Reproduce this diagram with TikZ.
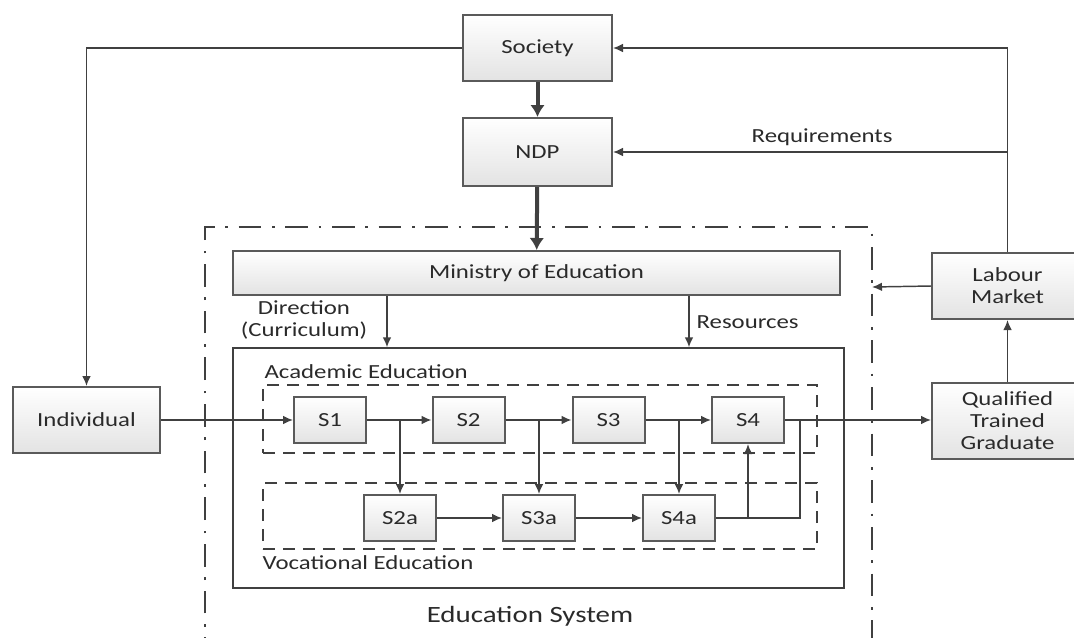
\documentclass[tikz,border=0pt]{standalone}
\usepackage{fontspec}
\setmainfont{Carlito}[FakeStretch=1.24]
\usetikzlibrary{arrows.meta}
\definecolor{edgegray}{HTML}{5A5A5A}
\definecolor{linegray}{HTML}{404040}
\definecolor{txtgray}{HTML}{2A2A2A}
\tikzstyle{blk} = [draw=edgegray,line width=1.5pt,top color=white,bottom color=black!11,text=txtgray,align=center,inner sep=2pt]
\tikzstyle{sbox} = [blk,minimum width=54pt,minimum height=34.5pt]
\tikzstyle{zone} = [draw=linegray,line width=1.1pt,dash pattern=on 9pt off 6pt,minimum width=415.5pt]
\tikzstyle{lbl} = [text=txtgray,inner sep=1pt]

\begin{document}
\begin{tikzpicture}[x=0.75pt,y=-0.75pt,font=\fontsize{15}{16.5}\selectfont,
  post/.style={->,>={Latex[length=7.5pt,width=6.5pt]},draw=linegray,line width=1.1pt},
  bigpost/.style={post,line width=3pt,>={Latex[length=9pt,width=11pt]}}]
    \useasboundingbox (0,0) rectangle (1074,637);

    % outer frame of the education system
    \draw[draw=linegray,line width=1.3pt,dash pattern=on 17pt off 8pt on 2pt off 8pt]
        (205,660) -- (205,227) -- (872,227) -- (872,660);
    \coordinate (frameR) at (872,287);
    \node[lbl,font=\fontsize{17.5}{20}\selectfont] (edusys) at (530,616) {Education System};

    \node[blk,minimum width=111.75pt,minimum height=49.5pt] (soc) at (537.5,48) {Society};
    \node[blk,minimum width=111.75pt,minimum height=51pt] (ndp) at (537.5,152) {NDP};
    \node[blk,minimum width=455.25pt,minimum height=33pt] (moe) at (536.5,273) {Ministry of Education};
    \node[blk,minimum width=110.25pt,minimum height=49.5pt] (ind) at (86.5,420) {Individual};
    \node[blk,minimum width=113.25pt,minimum height=49.5pt] (lab) at (1007.5,286) {Labour\\Market};
    \node[blk,minimum width=113.25pt,minimum height=57pt] (qtg) at (1007.5,421) {Qualified\\Trained\\Graduate};

    \node[draw=linegray,line width=1.1pt,minimum width=458.25pt,minimum height=180pt] (edu) at (538.5,468) {};
    \node[zone,minimum height=51pt] (acad) at (540,419) {};
    \node[zone,minimum height=49.5pt] (voc) at (540,516) {};
    \node[lbl,anchor=west] (acadlbl) at (263,372) {Academic Education};
    \node[lbl,anchor=west] (voclbl) at (261,563) {Vocational Education};

    \node[sbox] (s1) at (330,420) {S1};
    \node[sbox] (s2) at (468.5,420) {S2};
    \node[sbox] (s3) at (608.5,420) {S3};
    \node[sbox] (s4) at (748,420) {S4};
    \node[sbox] (s2a) at (400,518) {S2a};
    \node[sbox] (s3a) at (539,518) {S3a};
    \node[sbox] (s4a) at (679,518) {S4a};

    \coordinate (dirx) at (387,0);
    \coordinate (resx) at (689,0);
    \coordinate (join) at (800,421);

    \draw[bigpost] (soc) -- (ndp);
    \draw[bigpost] (ndp) -- (moe);
    \draw[post] (soc.west) -| (ind.north);
    \draw[post] (lab.north) |- (soc.east);
    \draw[post] (lab.north |- ndp.east) -- node[lbl,above=3pt,pos=0.47] {Requirements} (ndp.east);
    \draw[post] (lab.west) -- (frameR);
    \draw[post] (qtg) -- (lab);

    \draw[post] (moe.south -| dirx) -- (edu.north -| dirx);
    \node[lbl,align=center] (dirlbl) at (304,320) {Direction\\(Curriculum)};
    \draw[post] (moe.south -| resx) -- (edu.north -| resx);
    \node[lbl,anchor=west] (reslbl) at (695,322) {Resources};

    \draw[post] (ind) -- (s1);
    \draw[post] (s1) -- (s2);
    \draw[post] (s2) -- (s3);
    \draw[post] (s3) -- (s4);
    \draw[post] (s1.east) -| (s2a.north);
    \draw[post] (s2.east) -| (s3a.north);
    \draw[post] (s3.east) -| (s4a.north);
    \draw[post] (s2a) -- (s3a);
    \draw[post] (s3a) -- (s4a);
    \draw[post] (s4a.east) -| (s4.south);
    \draw[draw=linegray,line width=1.1pt] (s4a.east) -| (join);
    \draw[post] (s4.east) -- (qtg.west |- s4.east);

    \end{tikzpicture}
\end{document}
